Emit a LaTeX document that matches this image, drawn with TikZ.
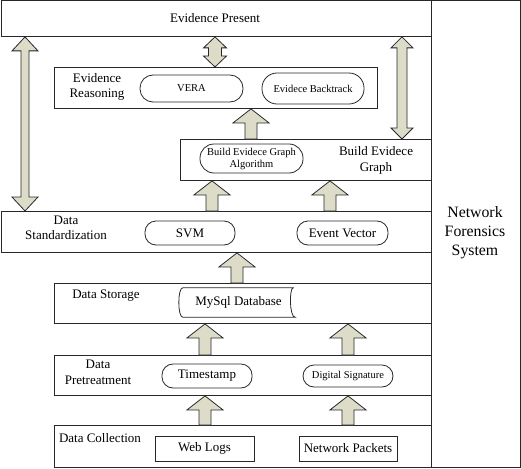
\documentclass[tikz,border=0pt]{standalone}
\usepackage{fontspec}
\setmainfont{Liberation Serif}
\usetikzlibrary{calc}
\definecolor{linec}{RGB}{40,40,40}
\definecolor{arrowfill}{RGB}{220,220,200}
\newcommand{\bigtxt}{\fontsize{13}{15.6}\selectfont}
\newcommand{\smalltxt}{\fontsize{10.5}{12}\selectfont}
\newcommand{\hugetxt}{\fontsize{15.8}{19.2}\selectfont}
\tikzset{
  arrshaft/.store in=\arrshaft, arrhead/.store in=\arrhead, arrlen/.store in=\arrlen,
  arrshaft=6pt, arrhead=18pt, arrlen=14pt,
  layer/.style={draw=linec, line width=0.9pt, rectangle, anchor=north west, inner sep=0pt},
  label/.style={inner sep=0pt, align=center, font=\bigtxt},
  pill/.style={draw=linec, line width=0.8pt, rectangle, rounded corners=11pt, inner sep=0pt, align=center, font=\bigtxt},
  plainbox/.style={draw=linec, line width=0.8pt, rectangle, inner sep=0pt, align=center, font=\bigtxt},
  blockup/.style={draw=linec, fill=arrowfill, line width=0.8pt, line join=miter, to path={
    let \p1=(\tikztostart), \p2=(\tikztotarget) in
    (\x1-\arrshaft,\y1) -- (\x1-\arrshaft,\y2-\arrlen) -- (\x1-\arrhead,\y2-\arrlen) -- (\x1,\y2)
    -- (\x1+\arrhead,\y2-\arrlen) -- (\x1+\arrshaft,\y2-\arrlen) -- (\x1+\arrshaft,\y1) -- cycle}},
  blockboth/.style={draw=linec, fill=arrowfill, line width=0.8pt, line join=miter, to path={
    let \p1=(\tikztostart), \p2=(\tikztotarget) in
    (\x1-\arrshaft,\y1+\arrlen) -- (\x1-\arrhead,\y1+\arrlen) -- (\x1,\y1) -- (\x1+\arrhead,\y1+\arrlen)
    -- (\x1+\arrshaft,\y1+\arrlen) -- (\x1+\arrshaft,\y2-\arrlen) -- (\x1+\arrhead,\y2-\arrlen) -- (\x1,\y2)
    -- (\x1-\arrhead,\y2-\arrlen) -- (\x1-\arrshaft,\y2-\arrlen) -- cycle}},
}
\begin{document}
\begin{tikzpicture}[x=1pt,y=-1pt]
\useasboundingbox (0,0) rectangle (521,468);
\fill[white] (0,0) rectangle (521,468);

% layer boxes
\node[layer, minimum width=430.5pt, minimum height=35.5pt] (ep) at (0.5,0.5) {};
\node[layer, minimum width=323pt, minimum height=41pt] (er) at (54,67) {};
\node[layer, minimum width=251pt, minimum height=41pt] (bg) at (180,139) {};
\node[layer, minimum width=430.5pt, minimum height=41pt] (ds) at (0.5,211) {};
\node[layer, minimum width=377pt, minimum height=40pt] (st) at (54,283) {};
\node[layer, minimum width=377pt, minimum height=40pt] (pt) at (54,355) {};
\node[layer, minimum width=377pt, minimum height=42pt] (dc) at (54,425) {};
\node[layer, minimum width=89pt, minimum height=466.5pt] (nf) at (431,0.5) {};

% labels
\node[label] (eplab) at (215,18) {Evidence Present};
\node[label] (erlab) at (97,87) {Evidence\\Reasoning};
\node[label] (bglab) at (376,160.5) {Build Evidece\\Graph};
\node[label] (dslab) at (66,228) {Data\\Standardization};
\node[label] (stlab) at (106,296) {Data Storage};
\node[label] (ptlab) at (98,372.5) {Data\\Pretreatment};
\node[label] (dclab) at (100,438) {Data Collection};
\node[label, font=\hugetxt] (nflab) at (475,233) {Network\\Forensics\\System};

% inner elements
\node[pill, font=\smalltxt, minimum width=103pt, minimum height=27pt, rounded corners=13pt] (vera) at (191.5,88.5) {VERA};
\node[pill, font=\smalltxt, minimum width=102pt, minimum height=31pt, rounded corners=15pt] (back) at (313,88.5) {Evidece Backtrack};
\node[pill, font=\smalltxt, minimum width=103pt, minimum height=29pt, rounded corners=14pt] (alg) at (251.5,158.5) {Build Evidece Graph\\Algorithm};
\node[pill, minimum width=90pt, minimum height=24pt] (svm) at (190,233) {SVM};
\node[pill, minimum width=91pt, minimum height=24pt] (ev) at (342.5,233) {Event Vector};
\node[inner sep=0pt, font=\bigtxt, minimum width=111pt, minimum height=29pt] (db) at (238.5,302.5) {MySql Database};
\draw[draw=linec, line width=0.8pt] (db.north west)
  .. controls ([xshift=-5.3pt]db.north west) and ([xshift=-5.3pt]db.south west) .. (db.south west)
  -- ([xshift=1pt]db.south east)
  .. controls ([xshift=-5pt]db.south east) and ([xshift=-5pt]db.north east) .. ([xshift=-1pt]db.north east)
  -- cycle;
\node[pill, minimum width=90pt, minimum height=24pt] (ts) at (207,376) {Timestamp};
\node[pill, font=\smalltxt, minimum width=90pt, minimum height=22pt] (sig) at (348,376) {Digital Signature};
\node[plainbox, minimum width=99pt, minimum height=25pt] (web) at (204.5,448.5) {Web Logs};
\node[plainbox, minimum width=98pt, minimum height=25pt] (net) at (348,448.5) {Network Packets};

% x positions of the block arrows
\coordinate (xl) at (25,0);
\coordinate (xm) at (215,0);
\coordinate (xr) at (402,0);
\coordinate (xa) at (251,0);
\coordinate (xb) at (212,0);
\coordinate (xc) at (330,0);
\coordinate (xd) at (237,0);
\coordinate (xe) at (205,0);
\coordinate (xf) at (348,0);

% block arrows
\draw[blockboth, arrshaft=4pt, arrhead=13pt, arrlen=14pt] (ds.north -| xl) to (ep.south -| xl);
\draw[blockboth, arrshaft=6.5pt, arrhead=11.5pt, arrlen=11pt] (er.north -| xm) to (ep.south -| xm);
\draw[blockboth, arrshaft=5pt, arrhead=11pt, arrlen=11pt] (bg.north -| xr) to (ep.south -| xr);
\draw[blockup, arrshaft=6pt, arrhead=18pt, arrlen=14pt] (bg.north -| xa) to (er.south -| xa);
\draw[blockup, arrshaft=6pt, arrhead=18pt, arrlen=14pt] (ds.north -| xb) to (bg.south -| xb);
\draw[blockup, arrshaft=6pt, arrhead=18pt, arrlen=14pt] (ds.north -| xc) to (bg.south -| xc);
\draw[blockup, arrshaft=6pt, arrhead=18pt, arrlen=14pt] (st.north -| xd) to (ds.south -| xd);
\draw[blockup, arrshaft=6pt, arrhead=18pt, arrlen=14pt] (pt.north -| xe) to (st.south -| xe);
\draw[blockup, arrshaft=6pt, arrhead=18pt, arrlen=14pt] (pt.north -| xf) to (st.south -| xf);
\draw[blockup, arrshaft=6pt, arrhead=18pt, arrlen=14pt] (dc.north -| xe) to (pt.south -| xe);
\draw[blockup, arrshaft=6pt, arrhead=18pt, arrlen=14pt] (dc.north -| xf) to (pt.south -| xf);
\end{tikzpicture}
\end{document}
